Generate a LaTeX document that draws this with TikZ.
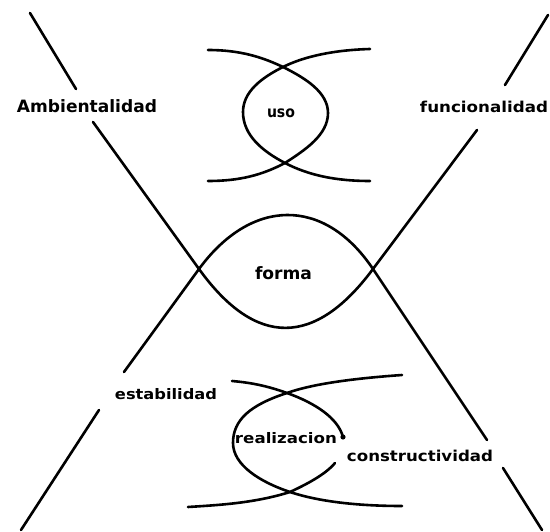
\documentclass[tikz,border=0pt]{standalone}
\usepackage{fontspec}
\setmainfont{DejaVu Sans}
\usepackage{graphicx}
\newcommand\lbl[3]{\resizebox{#2pt}{\height}{\fontsize{#1}{#1}\selectfont\bfseries #3}}
\begin{document}
\begin{tikzpicture}[x=1pt,y=-1pt,
  curve/.style={line width=2.6pt, line cap=round, line join=round},
  lab/.style={inner sep=0pt, anchor=base}]
\useasboundingbox (0,0) rectangle (550,532);
\fill[white] (0,0) rectangle (550,532);
% big crossing curves
\coordinate (a1) at (30,13);
\coordinate (a2) at (76,89);
\coordinate (a3) at (93,122);
\coordinate (xl) at (199,269);
\coordinate (xr) at (373,269);
\coordinate (a4) at (477,130);
\coordinate (a5) at (505,85);
\coordinate (a6) at (548,15);
\coordinate (b1) at (21,530);
\coordinate (b2) at (99,410);
\coordinate (b3) at (124,372);
\coordinate (b4) at (487,440);
\coordinate (b5) at (503,468);
\coordinate (b6) at (542,530);
\draw[curve] (a1) -- (a2);
\draw[curve] (a3) -- (xl) .. controls (256,348) and (315,347) .. (xr) -- (a4);
\draw[curve] (a5) -- (a6);
\draw[curve] (b1) -- (b2);
\draw[curve] (b3) -- (xl) .. controls (251,198) and (324,196) .. (xr) -- (b4);
\draw[curve] (b5) -- (b6);
% uso figure
\coordinate (ut) at (283,67);
\coordinate (ub) at (285,163);
\draw[curve] (208,50) .. controls (240,50) and (262,57) .. (ut)
  .. controls (305,78) and (328,92) .. (328,113)
  .. controls (328,135) and (305,150) .. (ub)
  .. controls (262,175) and (240,181) .. (208,181);
\draw[curve] (370,49) .. controls (335,50) and (305,56) .. (ut)
  .. controls (261,78) and (243,92) .. (243,112)
  .. controls (243,135) and (262,151) .. (ub)
  .. controls (308,175) and (335,181) .. (370,181);
% realizacion figure
\coordinate (rt) at (287,393);
\coordinate (rb) at (290,492);
\coordinate (rd) at (343,437);
\draw[curve] (232,381) .. controls (255,383) and (270,387) .. (rt)
  .. controls (315,403) and (338,418) .. (rd);
\fill (rd) circle (2.6pt);
\draw[curve] (335,463) .. controls (325,475) and (305,485) .. (rb)
  .. controls (255,503) and (220,505) .. (188,507);
\draw[curve] (402,375) .. controls (360,378) and (315,383) .. (rt)
  .. controls (250,405) and (233,420) .. (233,443)
  .. controls (233,465) and (260,482) .. (rb)
  .. controls (320,502) and (360,506) .. (402,506);
% labels
\node[lab] (amb) at (87,113) {\lbl{17}{140}{Ambientalidad}};
\node[lab] (uso) at (281,118) {\lbl{15.5}{28}{uso}};
\node[lab] (fun) at (484,113) {\lbl{15}{128}{funcionalidad}};
\node[lab] (forma) at (283.5,280) {\lbl{17}{57}{forma}};
\node[lab] (est) at (166,400) {\lbl{14.5}{102}{estabilidad}};
\node[lab] (rea) at (286,444) {\lbl{14.5}{102}{realizacion}};
\node[lab] (con) at (420,461) {\lbl{15}{146}{constructividad}};
\end{tikzpicture}
\end{document}
